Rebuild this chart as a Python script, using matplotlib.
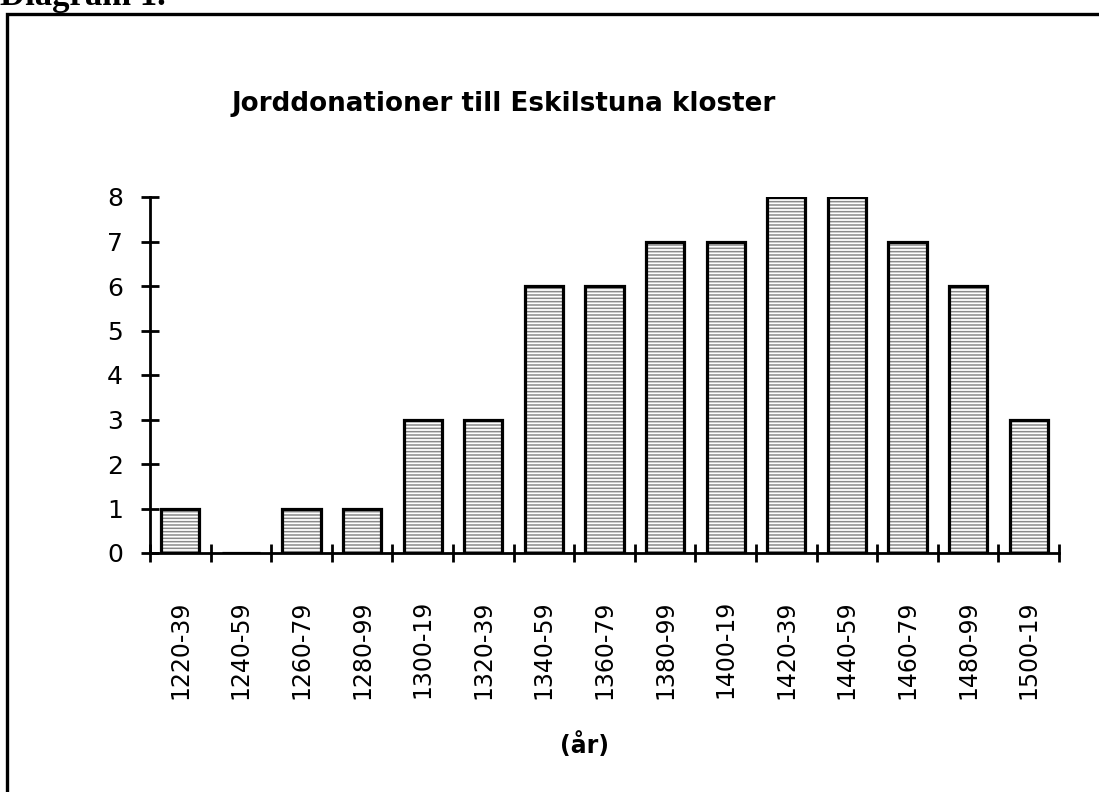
import matplotlib
matplotlib.use("Agg")
import matplotlib.pyplot as plt
from matplotlib.patches import Rectangle

categories = ["1220-39", "1240-59", "1260-79", "1280-99", "1300-19", "1320-39",
              "1340-59", "1360-79", "1380-99", "1400-19", "1420-39", "1440-59",
              "1460-79", "1480-99", "1500-19"]
values = [1, 0, 1, 1, 3, 3, 6, 6, 7, 7, 8, 8, 7, 6, 3]
yticks = [0, 1, 2, 3, 4, 5, 6, 7, 8]

plt.rcParams['font.family'] = ['DejaVu Sans']
plt.rcParams['hatch.linewidth'] = 1.1

W, H = 1099, 792
fig = plt.figure(figsize=(W / 100, H / 100), dpi=100)

# outer frame
fig.patches.append(Rectangle((7 / W, -0.05), 1.2, 1 - 14 / H + 0.05,
                             transform=fig.transFigure, fill=False,
                             edgecolor='black', linewidth=2.4))
fig.text(0.0, 1 - 5 / H, "Diagram 1.", family=['Liberation Serif'],
         fontweight='bold', fontsize=25, ha='left', va='baseline')

ax = fig.add_axes([150 / W, 1 - 553 / H, (1059 - 150) / W, (553 - 197) / H])
x = [i + 0.5 for i in range(len(categories))]
ax.bar(x, values, width=0.63, color='white', edgecolor='#8a8a8a',
       hatch='-----', linewidth=0, zorder=2)
ax.bar(x, values, width=0.63, fill=False, edgecolor='black',
       linewidth=2.3, zorder=3)

ax.set_xlim(0, len(categories))
ax.set_ylim(0, 8)
for s in ['top', 'right']:
    ax.spines[s].set_visible(False)
for s in ['left', 'bottom']:
    ax.spines[s].set_linewidth(2.0)
    ax.spines[s].set_zorder(4)

ax.set_yticks(yticks)
ax.set_yticklabels([str(v) for v in yticks], fontsize=18)
ax.tick_params(axis='y', direction='inout', length=13, width=2.0, pad=13)

ax.set_xticks(range(len(categories) + 1))
ax.set_xticklabels([])
ax.tick_params(axis='x', which='major', direction='inout', length=13, width=2.0)
ax.set_xticks(x, minor=True)
ax.set_xticklabels(categories, minor=True, rotation=90, fontsize=17,
                   va='top', ha='center')
ax.tick_params(axis='x', which='minor', length=0, pad=34)

fig.text(504 / W, 1 - 104 / H, "Jorddonationer till Eskilstuna kloster",
         fontsize=18.8, fontweight='bold', ha='center', va='center')
fig.text(584 / W, 1 - 745 / H, "(år)", fontsize=17, fontweight='bold',
         ha='center', va='center')

fig.savefig("out.png", dpi=100)
